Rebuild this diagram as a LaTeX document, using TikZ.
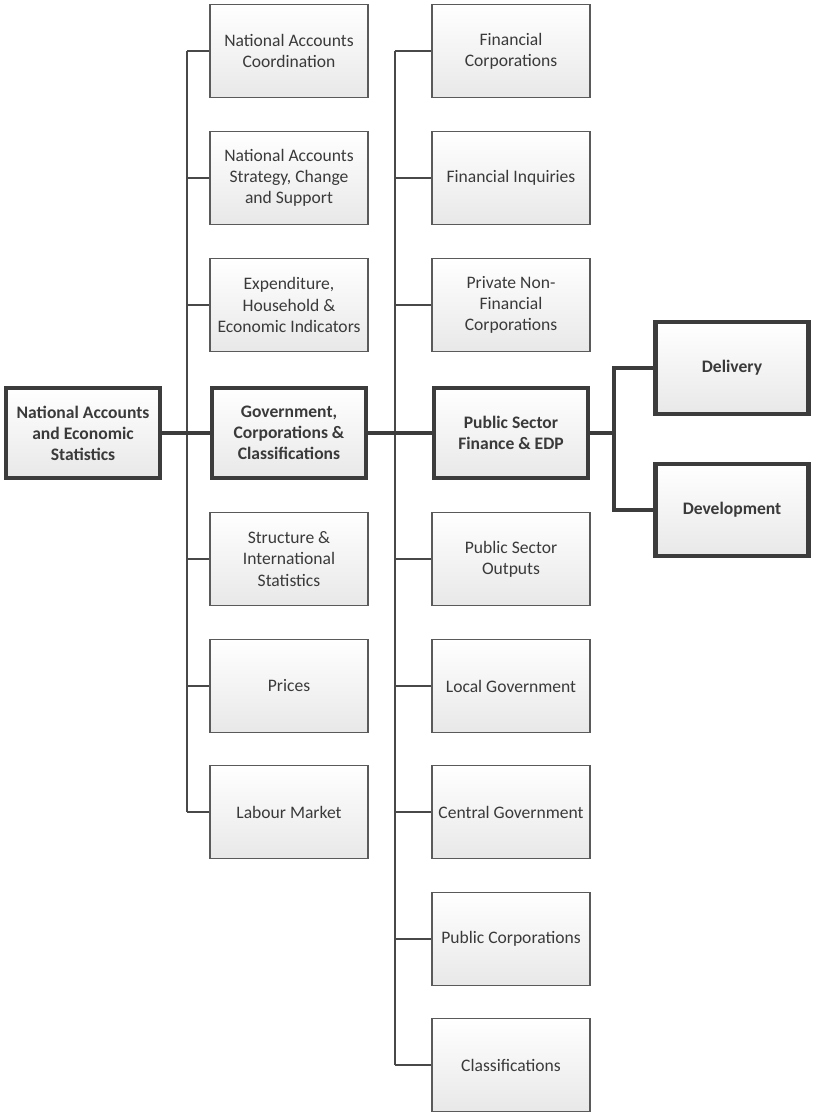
\documentclass[tikz,border=0pt]{standalone}
\usepackage{fontspec}
\setmainfont{Carlito}
\usepackage{tikz}
\usetikzlibrary{positioning}
\definecolor{inktext}{HTML}{3A3A3A}
\definecolor{thinrule}{HTML}{5A5A5A}
\definecolor{boldrule}{HTML}{3C3C3C}
\tikzset{unit/.style = {draw = thinrule, line width = 0.8pt,
                        top color = white, bottom color = black!9,
                        text = inktext, font = \fontsize{10}{12}\selectfont,
                        align = flush center, text width = 3.05cm, inner sep = 0pt,
                        minimum width = 3.16cm, minimum height = 1.86cm},
         head/.style = {unit, draw = boldrule, line width = 2.8pt,
                        font = \fontsize{10}{12}\selectfont\bfseries,
                        minimum width = 3.08cm, minimum height = 1.8cm},
         link/.style = {draw = thinrule!80!black, line width = 0.75pt},
         trunk/.style = {draw = boldrule, line width = 2.8pt}}

\begin{document}
\begin{tikzpicture}[x = 0.02cm, y = -0.02cm]
      \useasboundingbox (0, 0) rectangle (813, 1115);
      % root and main chain
      \node [head] (naes) at (83, 433) {National Accounts\\and Economic\\Statistics};
      \node [head] (gcc) at (289, 433) {Government,\\Corporations \&\\Classifications};
      \node [head] (psf) at (511, 433) {Public Sector\\Finance \& EDP};
      \node [head, minimum width = 3.06cm, minimum height = 1.84cm] (dlv) at (732, 368) {Delivery};
      \node [head, minimum width = 3.06cm, minimum height = 1.84cm] (dev) at (732, 510) {Development};
      % first column
      \node [unit] (nac) at (289, 51) {National Accounts\\Coordination};
      \node [unit] (nas) at (289, 178) {National Accounts\\Strategy, Change\\and Support};
      \node [unit] (ehe) at (289, 305) {Expenditure,\\Household \&\\Economic Indicators};
      \node [unit] (sis) at (289, 559) {Structure \&\\International\\Statistics};
      \node [unit] (prc) at (289, 686) {Prices};
      \node [unit] (lab) at (289, 812) {Labour Market};
      % second column
      \node [unit] (fco) at (511, 51) {Financial\\Corporations};
      \node [unit] (fin) at (511, 178) {Financial Inquiries};
      \node [unit] (pnf) at (511, 305) {Private Non-\\Financial\\Corporations};
      \node [unit] (pso) at (511, 559) {Public Sector\\Outputs};
      \node [unit] (lgv) at (511, 686) {Local Government};
      \node [unit] (cgv) at (511, 812) {Central Government};
      \node [unit] (pco) at (511, 939) {Public Corporations};
      \node [unit] (cls) at (511, 1065) {Classifications};

      \coordinate (ltop) at (187, 51);
      \coordinate (lbot) at (187, 812);
      \coordinate (rtop) at (395, 51);
      \coordinate (rbot) at (395, 1065);
      \coordinate (ftop) at (614, 368);
      \coordinate (fbot) at (614, 510);

      \draw [link] (ltop) -- (lbot);
      \draw [link] (rtop) -- (rbot);
      \draw [link] (nac.west) -- (nac.west -| ltop);
      \draw [link] (nas.west) -- (nas.west -| ltop);
      \draw [link] (ehe.west) -- (ehe.west -| ltop);
      \draw [link] (sis.west) -- (sis.west -| ltop);
      \draw [link] (prc.west) -- (prc.west -| ltop);
      \draw [link] (lab.west) -- (lab.west -| ltop);
      \draw [link] (fco.west) -- (fco.west -| rtop);
      \draw [link] (fin.west) -- (fin.west -| rtop);
      \draw [link] (pnf.west) -- (pnf.west -| rtop);
      \draw [link] (pso.west) -- (pso.west -| rtop);
      \draw [link] (lgv.west) -- (lgv.west -| rtop);
      \draw [link] (cgv.west) -- (cgv.west -| rtop);
      \draw [link] (pco.west) -- (pco.west -| rtop);
      \draw [link] (cls.west) -- (cls.west -| rtop);

      \draw [trunk] (naes) -- (gcc);
      \draw [trunk] (gcc) -- (psf);
      \draw [trunk] (psf.east) -- (psf.east -| ftop);
      \draw [trunk, line join = miter] (dlv.west) -| (ftop) -- (fbot) -- (dev.west);
    \end{tikzpicture}
\end{document}
